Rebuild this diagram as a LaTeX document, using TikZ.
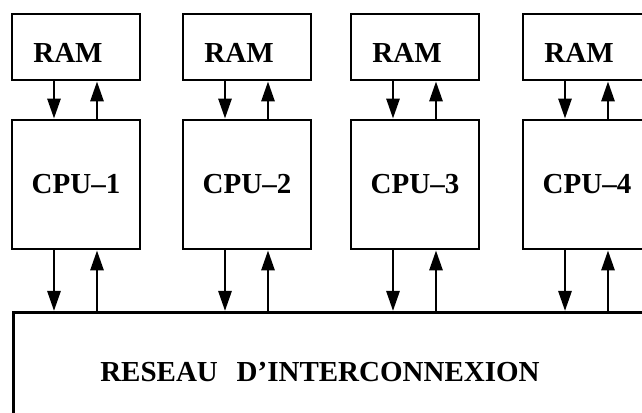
\documentclass[tikz,border=0pt]{standalone}
\usepackage{fontspec}
\setmainfont{Liberation Serif}
\usetikzlibrary{arrows.meta}
\begin{document}
\begin{tikzpicture}[x=0.5pt, y=0.5pt, line width=1.4pt,
  box/.style={draw, inner sep=0pt, minimum width=64pt, font=\fontsize{14.5}{17}\selectfont\bfseries},
  ramnode/.style={box, minimum height=33pt, text height=15.5pt, text depth=0pt},
  cpunode/.style={box, minimum height=64.5pt},
  link/.style={-{Triangle[length=10pt,width=6.5pt]}}]
% Page frame
\useasboundingbox (0,0) rectangle (642,412);
% Memory boxes
\node[ramnode] (ram1) at (76,365) {RAM\kern8pt};
\node[ramnode] (ram2) at (247,365) {RAM\kern8pt};
\node[ramnode] (ram3) at (415,365) {RAM\kern8pt};
\node[ramnode] (ram4) at (587,365) {RAM\kern8pt};
% Processors
\node[cpunode] (cpu1) at (76,227.5) {CPU–1};
\node[cpunode] (cpu2) at (247,227.5) {CPU–2};
\node[cpunode] (cpu3) at (415,227.5) {CPU–3};
\node[cpunode] (cpu4) at (587,227.5) {CPU–4};
% Interconnection network, runs off the page to the right and bottom
\node[draw, inner sep=0pt, anchor=north west, minimum width=344pt, minimum height=65pt] (net) at (12,101) {};
\node[anchor=base, font=\fontsize{14.5}{17}\selectfont\bfseries] (netlabel) at (320,31) {RESEAU\hspace{0.4em} D’INTERCONNEXION};
% RAM <-> CPU
\draw[link] ([xshift=-11pt]ram1.south) -- ([xshift=-11pt]cpu1.north);
\draw[link] ([xshift=10.5pt]cpu1.north) -- ([xshift=10.5pt]ram1.south);
\draw[link] ([xshift=-11pt]ram2.south) -- ([xshift=-11pt]cpu2.north);
\draw[link] ([xshift=10.5pt]cpu2.north) -- ([xshift=10.5pt]ram2.south);
\draw[link] ([xshift=-11pt]ram3.south) -- ([xshift=-11pt]cpu3.north);
\draw[link] ([xshift=10.5pt]cpu3.north) -- ([xshift=10.5pt]ram3.south);
\draw[link] ([xshift=-11pt]ram4.south) -- ([xshift=-11pt]cpu4.north);
\draw[link] ([xshift=10.5pt]cpu4.north) -- ([xshift=10.5pt]ram4.south);
% CPU <-> network
\draw[link] ([xshift=-11pt]cpu1.south) -- ([xshift=-11pt]cpu1.south |- net.north);
\draw[link] ([xshift=10.5pt]cpu1.south |- net.north) -- ([xshift=10.5pt]cpu1.south);
\draw[link] ([xshift=-11pt]cpu2.south) -- ([xshift=-11pt]cpu2.south |- net.north);
\draw[link] ([xshift=10.5pt]cpu2.south |- net.north) -- ([xshift=10.5pt]cpu2.south);
\draw[link] ([xshift=-11pt]cpu3.south) -- ([xshift=-11pt]cpu3.south |- net.north);
\draw[link] ([xshift=10.5pt]cpu3.south |- net.north) -- ([xshift=10.5pt]cpu3.south);
\draw[link] ([xshift=-11pt]cpu4.south) -- ([xshift=-11pt]cpu4.south |- net.north);
\draw[link] ([xshift=10.5pt]cpu4.south |- net.north) -- ([xshift=10.5pt]cpu4.south);
\end{tikzpicture}
\end{document}
